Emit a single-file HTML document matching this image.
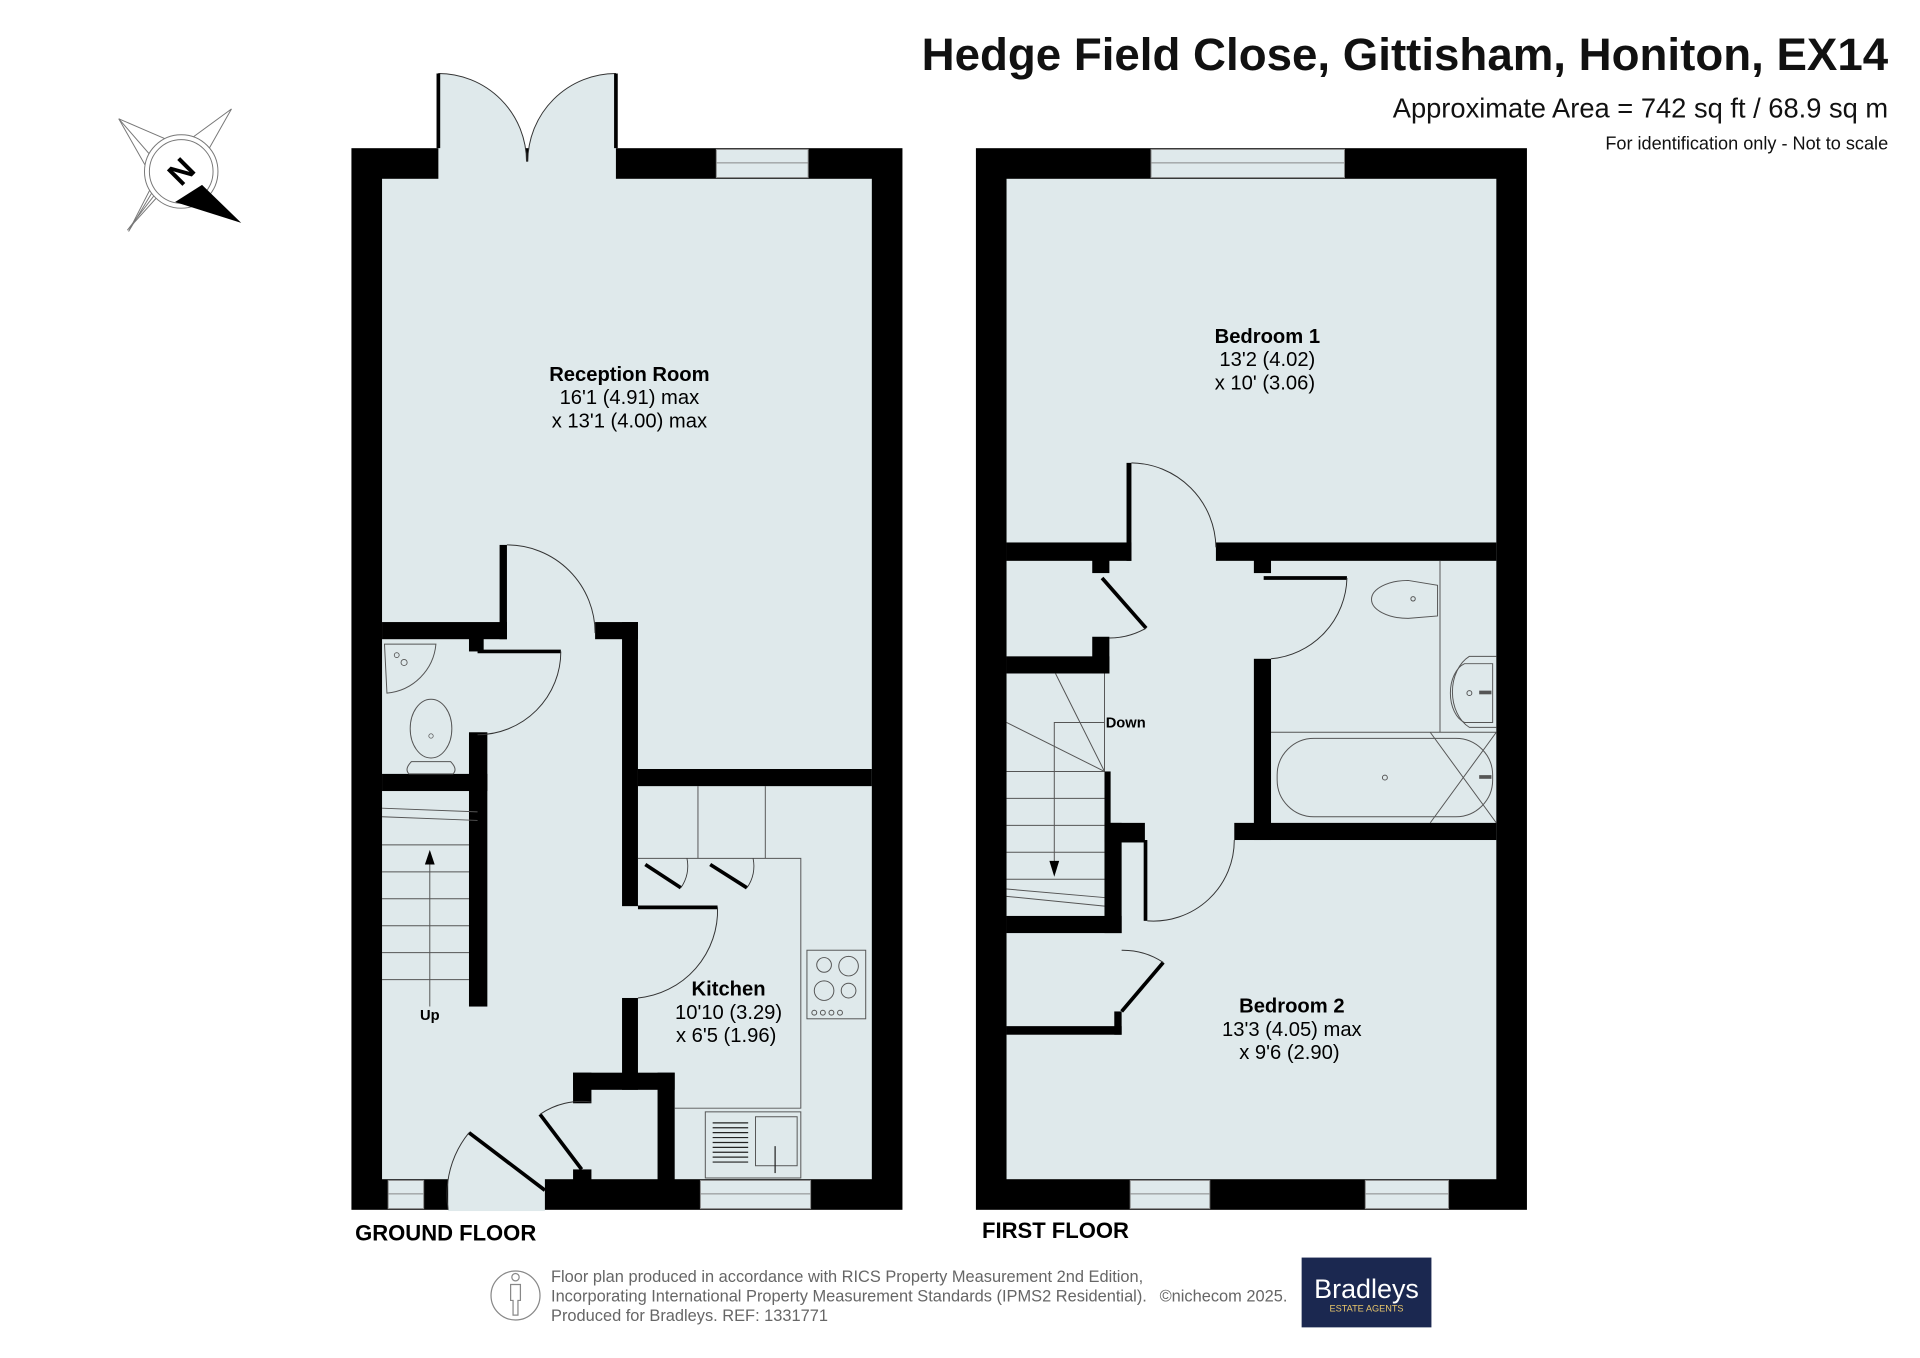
<!DOCTYPE html>
<html><head><meta charset="utf-8"><style>
html,body{margin:0;padding:0;background:#fff}
svg{display:block}
text{font-family:"Liberation Sans",Arial,sans-serif}
</style></head><body>
<svg width="1920" height="1358" viewBox="0 0 1568 1109" xmlns="http://www.w3.org/2000/svg">
<rect width="1568" height="1109" fill="#fff"/>
<!-- Title -->
<text x="1542" y="57" text-anchor="end" font-size="37.3" font-weight="bold" fill="#111">Hedge Field Close, Gittisham, Honiton, EX14</text>
<text x="1542" y="96" text-anchor="end" font-size="22.3" fill="#111">Approximate Area = 742 sq ft / 68.9 sq m</text>
<text x="1542" y="122" text-anchor="end" font-size="14.8" fill="#111">For identification only - Not to scale</text>

<!-- Compass -->
<g stroke="#777" stroke-width="0.8" fill="#fff">
<polygon points="97,97 140,131 105,189 126,148"/>
<polygon points="189,89 158,128 104,188 148,131"/>
<polygon points="97,97 148,119 189,89 150,158"/>
<circle cx="148" cy="140" r="30"/>
<circle cx="148" cy="140" r="26"/>
</g>
<polygon points="165,151 197,182 143,165" fill="#000"/>
<text x="148" y="149" text-anchor="middle" font-size="26" font-weight="bold" fill="#000" transform="rotate(-45 148 140)">N</text>

<!-- ================= GROUND FLOOR ================= -->
<g>
<rect x="287" y="121" width="450" height="867" fill="#000"/>
<rect x="312" y="146" width="400" height="817" fill="#dfe9eb"/>
<path d="M358,60 A72,72 0 0 1 430,132 L431,132 A72,72 0 0 1 503,60 L503,147 L358,147 Z" fill="#dfe9eb" stroke="none"/>
<path d="M358,60 A72,72 0 0 1 430,132 M503,60 A72,72 0 0 0 431,132" fill="none" stroke="#333" stroke-width="0.8"/>
<line x1="358" y1="60" x2="358" y2="121" stroke="#000" stroke-width="3"/>
<line x1="503" y1="60" x2="503" y2="121" stroke="#000" stroke-width="3"/>
<!-- top window -->
<rect x="585" y="122" width="75" height="23" fill="#dfe9eb" stroke="#888" stroke-width="0.8"/>
<line x1="585" y1="133" x2="660" y2="133" stroke="#888" stroke-width="0.8"/>
<!-- bottom openings -->
<rect x="317" y="964" width="29" height="23" fill="#dfe9eb" stroke="#888" stroke-width="0.8"/>
<line x1="317" y1="975" x2="346" y2="975" stroke="#888" stroke-width="0.8"/>
<rect x="366" y="962" width="79" height="27" fill="#dfe9eb"/>
<rect x="572" y="964" width="90" height="23" fill="#dfe9eb" stroke="#888" stroke-width="0.8"/>
<line x1="572" y1="975" x2="662" y2="975" stroke="#888" stroke-width="0.8"/>
<!-- front door -->
<line x1="383" y1="925" x2="445" y2="972" stroke="#000" stroke-width="3"/>
<path d="M383,925 A80,80 0 0 0 366,988" fill="none" stroke="#333" stroke-width="0.8"/>

<!-- interior walls -->
<rect x="312" y="508" width="102" height="14" fill="#000"/>
<rect x="408" y="445" width="6" height="77" fill="#000"/>
<rect x="383" y="518" width="12" height="14" fill="#000"/>
<rect x="486" y="508" width="35" height="14" fill="#000"/>
<rect x="508" y="508" width="13" height="232" fill="#000"/>
<rect x="508" y="815" width="13" height="75" fill="#000"/>
<rect x="468" y="876" width="83" height="14" fill="#000"/>
<rect x="468" y="876" width="15" height="25" fill="#000"/>
<rect x="537" y="876" width="14" height="88" fill="#000"/>
<rect x="468" y="955" width="15" height="10" fill="#000"/>
<rect x="521" y="628" width="191" height="14" fill="#000"/>
<rect x="383" y="598" width="15" height="224" fill="#000"/>
<rect x="312" y="632" width="86" height="14" fill="#000"/>
<!-- reception->hall door -->
<path d="M414,445 A72,72 0 0 1 486,517" fill="none" stroke="#333" stroke-width="0.8"/>
<!-- WC door -->
<line x1="390" y1="532" x2="458" y2="532" stroke="#000" stroke-width="3"/>
<path d="M458,532 A68,68 0 0 1 390,600" fill="none" stroke="#333" stroke-width="0.8"/>
<!-- kitchen door -->
<line x1="521" y1="741" x2="586" y2="741" stroke="#000" stroke-width="3"/>
<path d="M586,741 A72,72 0 0 1 521,815" fill="none" stroke="#333" stroke-width="0.8"/>
<!-- closet door -->
<line x1="441" y1="910" x2="475" y2="955" stroke="#000" stroke-width="3"/>
<path d="M441,910 A60,60 0 0 1 483,900" fill="none" stroke="#333" stroke-width="0.8"/>
<!-- WC fixtures -->
<path d="M314,526 L356,526 A44,44 0 0 1 316,566 Z" fill="none" stroke="#555" stroke-width="0.8"/>
<circle cx="330" cy="541" r="2.5" fill="none" stroke="#555" stroke-width="0.7"/>
<circle cx="324" cy="535" r="2" fill="none" stroke="#555" stroke-width="0.7"/>
<ellipse cx="352" cy="595" rx="17" ry="24" fill="none" stroke="#555" stroke-width="0.8"/>
<path d="M336,622 L368,622 Q374,628 370,632 L334,632 Q330,628 336,622Z" fill="none" stroke="#555" stroke-width="0.8"/>
<circle cx="352" cy="601" r="1.8" fill="none" stroke="#555" stroke-width="0.6"/>
<!-- stairs -->
<g stroke="#555" stroke-width="0.8">
<line x1="312" y1="660" x2="390" y2="663"/>
<line x1="312" y1="667" x2="390" y2="670"/>
<line x1="312" y1="690" x2="383" y2="690"/>
<line x1="312" y1="712" x2="383" y2="712"/>
<line x1="312" y1="734" x2="383" y2="734"/>
<line x1="312" y1="756" x2="383" y2="756"/>
<line x1="312" y1="778" x2="383" y2="778"/>
<line x1="312" y1="800" x2="383" y2="800"/>
<line x1="351" y1="822" x2="351" y2="700"/>
</g>
<polygon points="351,694 347,706 355,706" fill="#000"/>
<text x="351" y="833" text-anchor="middle" font-size="12" font-weight="bold">Up</text>
<!-- kitchen fittings -->
<g stroke="#555" stroke-width="0.8" fill="none">
<line x1="570" y1="642" x2="570" y2="701"/>
<line x1="625" y1="642" x2="625" y2="701"/>
<polyline points="521,701 654,701 654,905 551,905"/>
<rect x="576" y="908" width="78" height="54"/>
<rect x="617" y="912" width="34" height="40"/>
<rect x="659" y="776" width="48" height="56"/>
<circle cx="673" cy="788" r="6"/><circle cx="693" cy="789" r="8"/>
<circle cx="673" cy="809" r="8"/><circle cx="693" cy="809" r="6"/>
<circle cx="665" cy="827" r="2"/><circle cx="672" cy="827" r="2"/><circle cx="679" cy="827" r="2"/><circle cx="686" cy="827" r="2"/>
</g>
<g stroke="#222" stroke-width="1">
<line x1="582" y1="917" x2="611" y2="917"/><line x1="582" y1="921" x2="611" y2="921"/><line x1="582" y1="925" x2="611" y2="925"/><line x1="582" y1="929" x2="611" y2="929"/><line x1="582" y1="933" x2="611" y2="933"/><line x1="582" y1="937" x2="611" y2="937"/><line x1="582" y1="941" x2="611" y2="941"/><line x1="582" y1="945" x2="611" y2="945"/><line x1="582" y1="949" x2="611" y2="949"/>
<line x1="633" y1="936" x2="633" y2="958"/>
</g>
<!-- cupboard doors -->
<line x1="527" y1="706" x2="556" y2="725" stroke="#000" stroke-width="3"/>
<path d="M556,725 A30,30 0 0 0 561,701" fill="none" stroke="#333" stroke-width="0.7"/>
<line x1="580" y1="706" x2="610" y2="725" stroke="#000" stroke-width="3"/>
<path d="M610,725 A30,30 0 0 0 615,701" fill="none" stroke="#333" stroke-width="0.7"/>

<text x="514" y="311" text-anchor="middle" font-size="16.5" font-weight="bold">Reception Room</text>
<text x="514" y="330" text-anchor="middle" font-size="16.5">16'1 (4.91) max</text>
<text x="514" y="349" text-anchor="middle" font-size="16.5">x 13'1 (4.00) max</text>
<text x="595" y="813" text-anchor="middle" font-size="16.5" font-weight="bold">Kitchen</text>
<text x="595" y="832" text-anchor="middle" font-size="16.5">10'10 (3.29)</text>
<text x="593" y="851" text-anchor="middle" font-size="16.5">x 6'5 (1.96)</text>
<text x="290" y="1013" font-size="18" font-weight="bold">GROUND FLOOR</text>
</g>

<!-- ================= FIRST FLOOR ================= -->
<g>
<rect x="797" y="121" width="450" height="867" fill="#000"/>
<rect x="822" y="146" width="400" height="817" fill="#dfe9eb"/>
<rect x="940" y="122" width="158" height="23" fill="#dfe9eb" stroke="#888" stroke-width="0.8"/>
<line x1="940" y1="133" x2="1098" y2="133" stroke="#888" stroke-width="0.8"/>
<rect x="923" y="964" width="65" height="23" fill="#dfe9eb" stroke="#888" stroke-width="0.8"/>
<line x1="923" y1="975" x2="988" y2="975" stroke="#888" stroke-width="0.8"/>
<rect x="1115" y="964" width="68" height="23" fill="#dfe9eb" stroke="#888" stroke-width="0.8"/>
<line x1="1115" y1="975" x2="1183" y2="975" stroke="#888" stroke-width="0.8"/>

<rect x="822" y="443" width="102" height="15" fill="#000"/>
<rect x="920" y="378" width="4" height="80" fill="#000"/>
<rect x="892" y="455" width="14" height="13" fill="#000"/>
<rect x="993" y="443" width="229" height="15" fill="#000"/>
<rect x="1024" y="455" width="14" height="13" fill="#000"/>
<rect x="1024" y="538" width="14" height="148" fill="#000"/>
<rect x="1008" y="672" width="214" height="14" fill="#000"/>
<rect x="822" y="536" width="84" height="14" fill="#000"/>
<rect x="892" y="520" width="14" height="30" fill="#000"/>
<rect x="902" y="630" width="5" height="120" fill="#000"/>
<rect x="902" y="672" width="33" height="16" fill="#000"/>
<rect x="902" y="672" width="14" height="90" fill="#000"/>
<rect x="822" y="748" width="94" height="14" fill="#000"/>
<rect x="822" y="838" width="94" height="7" fill="#000"/>
<rect x="910" y="826" width="6" height="19" fill="#000"/>
<rect x="934" y="686" width="3" height="66" fill="#000"/>
<!-- doors -->
<path d="M924,378 A70,70 0 0 1 993,447" fill="none" stroke="#333" stroke-width="0.8"/>
<line x1="1032" y1="472" x2="1100" y2="472" stroke="#000" stroke-width="3"/>
<path d="M1100,472 A68,68 0 0 1 1038,538" fill="none" stroke="#333" stroke-width="0.8"/>
<line x1="900" y1="472" x2="936" y2="513" stroke="#000" stroke-width="3"/>
<path d="M936,513 A60,60 0 0 1 906,521" fill="none" stroke="#333" stroke-width="0.8"/>
<path d="M1008,686 A66,66 0 0 1 937,752" fill="none" stroke="#333" stroke-width="0.8"/>
<line x1="950" y1="786" x2="916" y2="826" stroke="#000" stroke-width="3"/>
<path d="M950,786 A60,60 0 0 0 916,776" fill="none" stroke="#333" stroke-width="0.8"/>
<!-- stairs -->
<g stroke="#555" stroke-width="0.8" fill="none">
<line x1="902" y1="550" x2="902" y2="630"/>
<line x1="862" y1="550" x2="902" y2="630"/>
<line x1="822" y1="590" x2="902" y2="630"/>
<line x1="822" y1="630" x2="902" y2="630"/>
<line x1="822" y1="652" x2="902" y2="652"/>
<line x1="822" y1="674" x2="902" y2="674"/>
<line x1="822" y1="696" x2="902" y2="696"/>
<line x1="822" y1="718" x2="902" y2="718"/>
<line x1="822" y1="726" x2="902" y2="733"/>
<line x1="822" y1="732" x2="902" y2="740"/>
<polyline points="902,590 861,590 861,708"/>
</g>
<polygon points="861,716 857,703 865,703" fill="#000"/>
<text x="903" y="594" font-size="12" font-weight="bold">Down</text>
<!-- bathroom -->
<g stroke="#555" stroke-width="0.8" fill="none">
<line x1="1176" y1="458" x2="1176" y2="598"/>
<line x1="1038" y1="598" x2="1222" y2="598"/>
<rect x="1043" y="603" width="176" height="64" rx="30"/>
<line x1="1168" y1="598" x2="1222" y2="672"/>
<line x1="1222" y1="598" x2="1168" y2="672"/>
<path d="M1174,478 L1174,503 L1150,505 A27,14 0 1 1 1150,474 Z"/>
<circle cx="1154" cy="489" r="1.8"/>
<path d="M1222,536 L1200,536 A24,32 0 0 0 1200,594 L1222,594"/>
<path d="M1219,542 L1196,542 A16,25 0 0 0 1196,590 L1219,590 Z"/>
<circle cx="1200" cy="566" r="2"/>
<circle cx="1131" cy="635" r="2"/>
</g>
<rect x="1208" y="564" width="10" height="3" fill="#555"/>
<rect x="1208" y="633" width="10" height="3" fill="#555"/>

<text x="1035" y="280" text-anchor="middle" font-size="16.5" font-weight="bold">Bedroom 1</text>
<text x="1035" y="299" text-anchor="middle" font-size="16.5">13'2 (4.02)</text>
<text x="1033" y="318" text-anchor="middle" font-size="16.5">x 10' (3.06)</text>
<text x="1055" y="827" text-anchor="middle" font-size="16.5" font-weight="bold">Bedroom 2</text>
<text x="1055" y="846" text-anchor="middle" font-size="16.5">13'3 (4.05) max</text>
<text x="1053" y="865" text-anchor="middle" font-size="16.5">x 9'6 (2.90)</text>
<text x="802" y="1011" font-size="18" font-weight="bold">FIRST FLOOR</text>
</g>

<!-- Footer -->
<g stroke="#888" stroke-width="1" fill="none">
<circle cx="421" cy="1058" r="20"/>
<circle cx="421" cy="1043" r="3"/>
<path d="M417,1049 L425,1049 L425,1062 L423,1062 L423,1074 L419,1074 L419,1062 L417,1062 Z"/>
</g>
<text x="450" y="1047" font-size="13.4" fill="#666">Floor plan produced in accordance with RICS Property Measurement 2nd Edition,</text>
<text x="450" y="1063" font-size="13.4" fill="#666">Incorporating International Property Measurement Standards (IPMS2 Residential).</text>
<text x="450" y="1079" font-size="13.4" fill="#666">Produced for Bradleys.   REF: 1331771</text>
<text x="947" y="1063" font-size="13.4" fill="#666">©nichecom 2025.</text>
<rect x="1063" y="1027" width="106" height="57" fill="#1b2850"/>
<text x="1116" y="1060" text-anchor="middle" font-size="22" fill="#fff">Bradleys</text>
<text x="1116" y="1071" text-anchor="middle" font-size="7.5" fill="#e8c66b">ESTATE AGENTS</text>
</svg>
</body></html>
